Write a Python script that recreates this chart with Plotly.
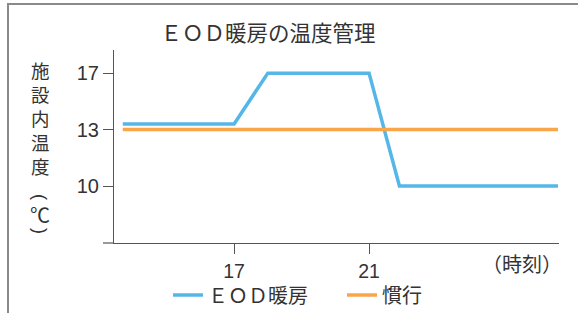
import numpy as np
import plotly.graph_objects as go

# ---- data ----
hours = [13.7, 17, 18, 21, 21.9, 26.6]
eod_temp = [13.4, 13.4, 17, 17, 10, 10]
conv_hours = [13.7, 26.6]
conv_temp = [13, 13]
y_tick_temps = [10, 13, 17]
x_tick_vals = [17, 21]
series_names = ["ＥＯＤ暖房", "慣行"]
y_title_word = ["施", "設", "内", "温", "度"]
y_title_unit = ["(", "℃", ")"]

# the reference axis spaces 10, 13, 17 evenly (schematic scale)
def ypos(v):
    return np.interp(v, y_tick_temps, [0, 1, 2])

W, H = 578, 313
L, R, T, B = 114, 19, 50, 70
pw, ph = W - L - R, H - T - B
def px(x):
    return (x - L) / pw
def py(y):
    return (H - B - y) / ph

fig = go.Figure()
fig.add_trace(go.Scatter(x=hours, y=ypos(eod_temp), mode="lines", name=series_names[0],
                         line=dict(color="#55b6e8", width=3.5)))
fig.add_trace(go.Scatter(x=conv_hours, y=ypos(conv_temp), mode="lines", name=series_names[1],
                         line=dict(color="#f9a54a", width=3.5)))

font_cjk = "Noto Sans CJK JP, Liberation Sans, sans-serif"
axis_col = "#555555"
txt_col = "#333333"

fig.update_layout(
    width=W, height=H, autosize=False,
    margin=dict(l=L, r=R, t=T, b=B, autoexpand=False),
    paper_bgcolor="white", plot_bgcolor="white",
    font=dict(family="Liberation Sans, Arial, sans-serif", size=20, color=txt_col),
    title=dict(text="ＥＯＤ暖房の温度管理", x=268 / W, xanchor="center",
               y=1 - 33 / H, yanchor="middle", yref="container",
               font=dict(family=font_cjk, size=21.5, color=txt_col)),
    showlegend=True,
    legend=dict(orientation="h", x=px(168), xanchor="left", y=py(295), yanchor="middle",
                font=dict(family=font_cjk, size=20, color=txt_col),
                bgcolor="rgba(0,0,0,0)", tracegroupgap=0, entrywidth=129),
)
fig.update_xaxes(range=[13.44, 26.63], tickvals=x_tick_vals, ticktext=[str(v) for v in x_tick_vals],
                 tickfont=dict(size=19.5),
                 showgrid=False, zeroline=False, showline=True, linecolor=axis_col, linewidth=1.2,
                 ticks="outside", ticklen=10, tickcolor=axis_col, tickwidth=1.2)
fig.update_yaxes(range=[-1.01, 2.41], tickvals=list(ypos(y_tick_temps)),
                 ticktext=[str(v) for v in y_tick_temps],
                 showgrid=False, zeroline=False, showline=True, linecolor=axis_col, linewidth=1.2,
                 ticks="outside", ticklen=10, tickcolor=axis_col, tickwidth=1.2)

# x-axis line extension left of the y axis
fig.add_shape(type="line", xref="paper", yref="paper", x0=px(103), x1=0, y0=0, y1=0,
              line=dict(color=axis_col, width=1.2))
# outer frame (cropped)
fig.add_shape(type="rect", xref="paper", yref="paper", x0=px(8), x1=px(640), y0=py(400), y1=py(4),
              line=dict(color="#8a8a8a", width=2), layer="below")

# vertical y-axis title: the word as one stacked text, the unit with turned brackets
fig.add_annotation(text="<br>".join(y_title_word), xref="paper", yref="paper",
                   x=px(40), y=py(118), xanchor="center", yanchor="middle", showarrow=False,
                   font=dict(family=font_cjk, size=18.5, color=txt_col))
unit_y = [197, 214, 231]
for ch, cy in zip(y_title_unit, unit_y):
    is_br = ch in "()"
    fig.add_annotation(text=ch, xref="paper", yref="paper",
                       x=px(40), y=py(cy), xanchor="center", yanchor="middle", showarrow=False,
                       textangle=90 if is_br else 0,
                       font=dict(family="Liberation Sans, sans-serif" if is_br else font_cjk,
                                 size=18 if is_br else 20, color=txt_col))
fig.add_annotation(text="（時刻）", xref="paper", yref="paper", x=px(522), y=py(263),
                   xanchor="center", yanchor="middle", showarrow=False,
                   font=dict(family=font_cjk, size=20, color=txt_col))

fig.write_html("out.html", config={"displayModeBar": False},
               post_script="document.body.style.margin='0';")
